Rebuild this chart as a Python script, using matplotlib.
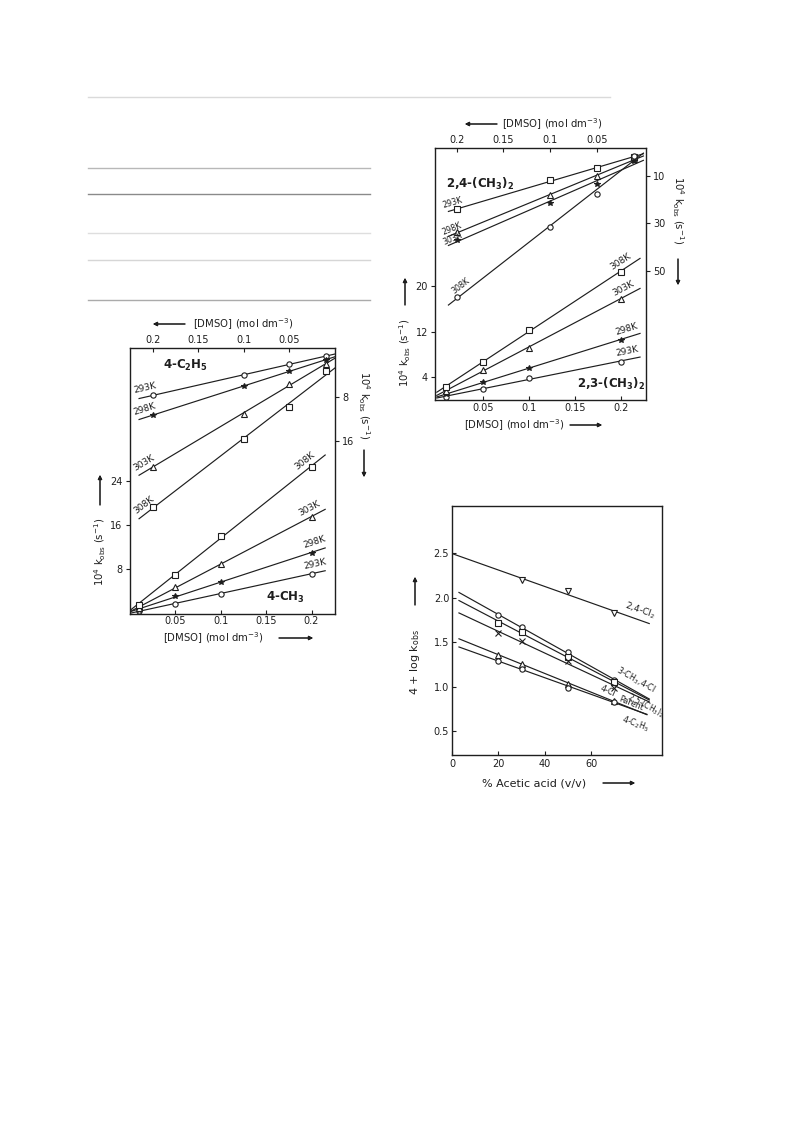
import matplotlib.pyplot as plt
import numpy as np
from matplotlib.lines import Line2D

W, H = 793, 1123
ink = '#1e1e1e'

plt.rcParams['font.family'] = ['DejaVu Sans']
plt.rcParams['font.size'] = 7
plt.rcParams['mathtext.default'] = 'regular'

# ---- data: panel 1 (4-CH3 bottom/left axes, 4-C2H5 top/right axes)
conc = [0.01, 0.05, 0.1, 0.2]
temps = ['293K', '298K', '303K', '308K']
ch3_293 = [0.4, 1.8, 3.6, 7.2]
ch3_298 = [0.7, 3.1, 5.7, 11.0]
ch3_303 = [1.0, 4.8, 8.9, 17.5]
ch3_308 = [1.6, 7.0, 14.0, 26.5]
c2h5_293 = [0.65, 2.1, 4.0, 7.8]
c2h5_298 = [1.3, 3.4, 6.0, 11.4]
c2h5_303 = [2.1, 5.7, 11.1, 20.8]
c2h5_308 = [3.4, 9.9, 15.7, 28.1]

# ---- data: panel 2 (2,3-(CH3)2 bottom/left, 2,4-(CH3)2 top/right)
m23_293 = [0.5, 2.0, 3.9, 6.7]
m23_298 = [1.0, 3.1, 5.6, 10.6]
m23_303 = [1.6, 5.2, 9.2, 17.8]
m23_308 = [2.3, 6.7, 12.2, 22.5]
m24_293 = [2.0, 6.8, 11.8, 24.2]
m24_298 = [2.8, 10.3, 18.0, 33.9]
m24_303 = [3.8, 13.4, 21.4, 37.2]
m24_308 = [1.7, 17.6, 31.8, 61.0]

# ---- data: panel 3 (4 + log kobs vs % acetic acid)
acid = [20, 30, 50, 70]
acid_cl2 = [30, 50, 70]
cl2_24 = [2.20, 2.07, 1.83]
me3_cl4 = [1.80, 1.67, 1.39, 1.07]
me25 = [1.72, 1.62, 1.33, 1.05]
cl4 = [1.60, 1.51, 1.29, 0.99]
parent = [1.36, 1.26, 1.03, 0.84]
et4 = [1.29, 1.20, 0.99, 0.83]

fig = plt.figure(figsize=(W / 100, H / 100), dpi=100)


def rect(l, t, r, b):
    return [l / W, 1 - b / H, (r - l) / W, (b - t) / H]


def fy(y):
    return 1 - y / H


# faint table rules left on the scanned page
for y, x0, x1, c in [(97, 88, 610, '#dadada'), (168, 88, 370, '#b8b8b8'),
                     (194, 88, 370, '#8a8a8a'), (233, 88, 370, '#dedede'),
                     (260, 88, 370, '#d6d6d6'), (300, 88, 370, '#ababab')]:
    fig.add_artist(Line2D([x0 / W, x1 / W], [fy(y), fy(y)], color=c, lw=1.0))


def style(ax, xin=True, yout=True):
    for s in ax.spines.values():
        s.set_linewidth(1.0)
        s.set_color(ink)
    ax.tick_params(axis='x', direction='in' if xin else 'out', length=3, width=0.8,
                   pad=2, labelsize=7, colors=ink)
    ax.tick_params(axis='y', direction='out' if yout else 'in', length=3, width=0.8,
                   pad=2, labelsize=7, colors=ink)


def overlay(ax):
    a2 = fig.add_axes(ax.get_position(), facecolor='none')
    for s in a2.spines.values():
        s.set_visible(False)
    a2.xaxis.tick_top()
    a2.yaxis.tick_right()
    style(a2)
    return a2


def fitline(ax, x, y, marker, x0, x1, label=None, lx=None, off=4, ms=3.8, fs=6.5):
    k, b = np.polyfit(x, y, 1)
    xx = np.array([x0, x1])
    ax.plot(xx, k * xx + b, color=ink, lw=0.85)
    if marker in ('*', 'x'):
        ax.plot(x, y, ls='none', marker=marker, ms=ms + 0.6, color=ink, mew=0.8)
    else:
        ax.plot(x, y, ls='none', marker=marker, ms=ms, mfc='white', mec=ink, mew=0.8)
    if label:
        ly = k * lx + b
        p = ax.transData.transform([[lx, ly], [lx + (x1 - x0) * 0.05, k * (lx + (x1 - x0) * 0.05) + b]])
        d = p[1] - p[0]
        if d[0] < 0:
            d = -d
        ang = np.degrees(np.arctan2(d[1], d[0]))
        ax.annotate(label, (lx, ly), xytext=(0, off), textcoords='offset points',
                    rotation=ang, rotation_mode='anchor', ha='center',
                    va='bottom' if off >= 0 else 'top', fontsize=fs, color=ink,
                    annotation_clip=False)


def arrow(x0, y0, x1, y1):
    fig.add_artist(plt.annotate('', xy=(x1 / W, fy(y1)), xytext=(x0 / W, fy(y0)),
                                xycoords='figure fraction', textcoords='figure fraction',
                                arrowprops=dict(arrowstyle='-|>', color=ink, lw=0.8,
                                                mutation_scale=6, shrinkA=0, shrinkB=0)))


kobs = '10$^4$ k$_{obs}$ (s$^{-1}$)'
dmso = '[DMSO] (mol dm$^{-3}$)'
ticks_c = [0.05, 0.1, 0.15, 0.2]
lab_fs = 7.3

# ================= panel 1 =================
ax = fig.add_axes(rect(129.5, 348, 335, 613.5))
ax.set_xlim(0, 0.2258)
ax.set_ylim(0, 48)
ax.set_xticks(ticks_c)
ax.set_xticklabels(['0.05', '0.1', '0.15', '0.2'])
ax.set_yticks([8, 16, 24])
style(ax)
bx = overlay(ax)
bx.set_xlim(0.2255, 0)
bx.set_ylim(47.5, -0.85)
bx.set_xticks(ticks_c)
bx.set_xticklabels(['0.05', '0.1', '0.15', '0.2'])
bx.set_yticks([8, 16])

ch3 = [ch3_293, ch3_298, ch3_303, ch3_308]
c2h5 = [c2h5_293, c2h5_298, c2h5_303, c2h5_308]
mk = ['o', '*', '^', 's']
lab_ch3 = [0.205, 0.205, 0.2, 0.196]
for t, yv, m, lx in zip(temps, ch3, mk, lab_ch3):
    fitline(ax, conc, yv, m, 0, 0.215, t, lx, 3)
for t, yv, m in zip(temps, c2h5, mk):
    fitline(bx, conc, yv, m, 0, 0.215, t, 0.207, 3)
ax.text(0.27, 0.935, '4-C$_2$H$_5$', transform=ax.transAxes, ha='center', va='center',
        fontsize=8.5, fontweight='bold', color=ink)
ax.text(0.76, 0.06, '4-CH$_3$', transform=ax.transAxes, ha='center', va='center',
        fontsize=8.5, fontweight='bold', color=ink)

fig.text(243.5 / W, fy(324), dmso, ha='center', va='center', color=ink, fontsize=lab_fs)
arrow(185, 324, 153, 324)
fig.text(213.5 / W, fy(638), dmso, ha='center', va='center', color=ink, fontsize=lab_fs)
arrow(279, 638, 313, 638)
fig.text(100 / W, fy(552), kobs, rotation=90, ha='center', va='center', color=ink, fontsize=lab_fs)
arrow(100, 505, 100, 475)
fig.text(364 / W, fy(405), kobs, rotation=-90, ha='center', va='center', color=ink, fontsize=lab_fs)
arrow(364, 450, 364, 477)

# ================= panel 2 =================
ax = fig.add_axes(rect(435, 148, 646, 400))
ax.set_xlim(-0.002, 0.2275)
ax.set_ylim(0, 44.2)
ax.set_xticks(ticks_c)
ax.set_xticklabels(['0.05', '0.1', '0.15', '0.2'])
ax.set_yticks([4, 12, 20])
style(ax)
bx = overlay(ax)
bx.set_xlim(0.2234, -0.0028)
bx.set_ylim(104.5, -1.7)
bx.set_xticks(ticks_c)
bx.set_xticklabels(['0.05', '0.1', '0.15', '0.2'])
bx.set_yticks([10, 30, 50])

m23 = [m23_293, m23_298, m23_303, m23_308]
m24 = [m24_293, m24_298, m24_303, m24_308]
lab_23 = [0.208, 0.208, 0.205, 0.202]
lab_24 = [0.203, 0.203, 0.203, 0.193]
off_24 = [2, 1, 0.3, 3]
for t, yv, m, lx in zip(temps, m23, ['o', '*', '^', 's'], lab_23):
    fitline(ax, conc, yv, m, 0, 0.221, t, lx, 3)
for t, yv, m, lx, o in zip(temps, m24, ['s', '^', '*', 'o'], lab_24, off_24):
    fitline(bx, conc, yv, m, 0, 0.209, t, lx, o, fs=5.8)
ax.text(0.215, 0.857, '2,4-(CH$_3$)$_2$', transform=ax.transAxes, ha='center',
        va='center', fontsize=8.5, fontweight='bold', color=ink)
ax.text(0.835, 0.065, '2,3-(CH$_3$)$_2$', transform=ax.transAxes, ha='center',
        va='center', fontsize=8.5, fontweight='bold', color=ink)

fig.text(552 / W, fy(124), dmso, ha='center', va='center', color=ink, fontsize=lab_fs)
arrow(497, 124, 465, 124)
fig.text(514 / W, fy(425), dmso, ha='center', va='center', color=ink, fontsize=lab_fs)
arrow(570, 425, 602, 425)
fig.text(405 / W, fy(353), kobs, rotation=90, ha='center', va='center', color=ink, fontsize=lab_fs)
arrow(405, 305, 405, 278)
fig.text(678 / W, fy(210), kobs, rotation=-90, ha='center', va='center', color=ink, fontsize=lab_fs)
arrow(678, 259, 678, 285)

# ================= panel 3 =================
ax = fig.add_axes(rect(452, 506, 662, 755))
ax.set_xlim(0, 90.5)
ax.set_ylim(0.233, 3.03)
ax.set_xticks([0, 20, 40, 60])
ax.set_yticks([0.5, 1.0, 1.5, 2.0, 2.5])
ax.set_yticklabels(['0.5', '1.0', '1.5', '2.0', '2.5'])
style(ax, xin=True, yout=False)
ax.tick_params(axis='x', pad=3)

fitline(ax, acid_cl2, cl2_24, 'v', 0.5, 85, '2,4-Cl$_2$', 80, 2, fs=6.5)
fitline(ax, acid, me3_cl4, 'o', 3, 85, '3-CH$_3$,4-Cl', 78, 3, fs=5.8)
fitline(ax, acid, me25, 's', 3, 85, '2,5-(CH$_3$)$_2$', 85, -0.5, fs=5.5)
fitline(ax, acid, cl4, 'x', 3, 85, '4-Cl', 68, -2.5, fs=5.8)
fitline(ax, acid, parent, '^', 3, 84, 'Parent', 76.5, 0, fs=5.8)
fitline(ax, acid, et4, 'o', 3, 84, '4-C$_2$H$_5$', 80, -5, fs=5.8)

fig.text(534.5 / W, fy(783), '% Acetic acid (v/v)', ha='center', va='center', color=ink,
         fontsize=8)
arrow(603, 783, 635, 783)
fig.text(415 / W, fy(662), '4 + log k$_{obs}$', rotation=90, ha='center', va='center',
         color=ink, fontsize=8)
arrow(415, 605, 415, 577)

fig.savefig('out.png', dpi=100)
